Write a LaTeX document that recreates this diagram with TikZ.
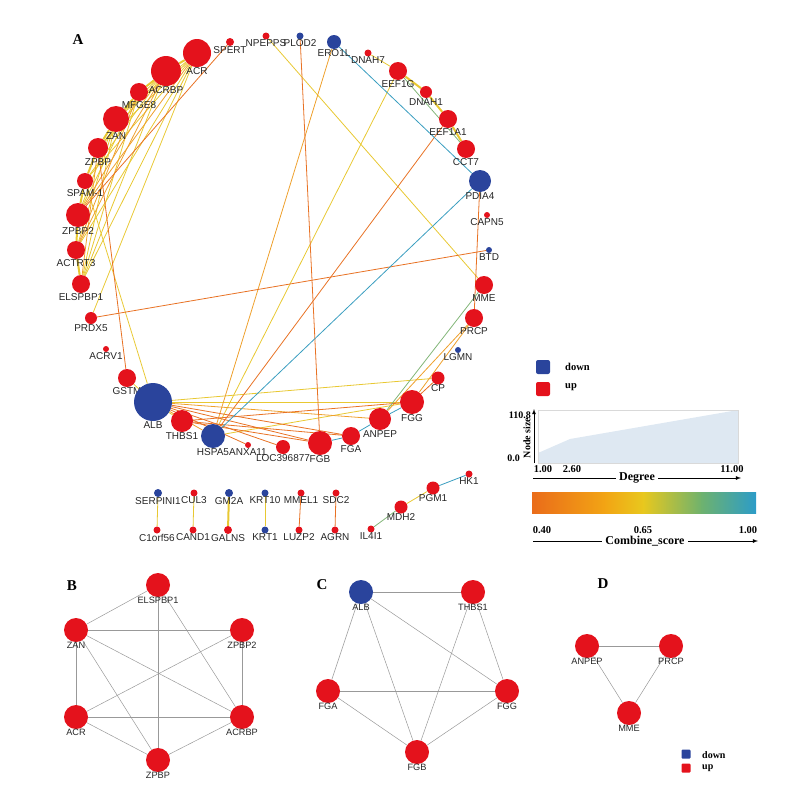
\documentclass[tikz,border=0pt]{standalone}
\usepackage{fontspec}
\setmainfont{Liberation Serif}
\setsansfont{Liberation Sans}
\usetikzlibrary{backgrounds}

\definecolor{upred}{RGB}{228,18,28}
\definecolor{downblue}{RGB}{42,68,156}
\definecolor{eOr}{RGB}{232,114,36}
\definecolor{eAm}{RGB}{238,160,44}
\definecolor{eYe}{RGB}{232,200,50}
\definecolor{eYg}{RGB}{190,196,70}
\definecolor{eGr}{RGB}{130,182,120}
\definecolor{eTe}{RGB}{58,158,192}
\definecolor{chartfill}{RGB}{222,232,242}
\definecolor{cO}{RGB}{234,108,26}
\definecolor{cA}{RGB}{242,165,20}
\definecolor{cY}{RGB}{232,200,30}
\definecolor{cG}{RGB}{110,178,110}
\definecolor{cT}{RGB}{44,156,200}

\tikzset{
  gene/.style={circle, inner sep=0pt, minimum size=#1, label distance=1.5pt},
  upgene/.style={gene=#1, fill=upred},
  dngene/.style={gene=#1, fill=downblue},
  glab/.style={inner sep=0pt, font=\sffamily\fontsize{10}{10}\selectfont, text=black!85},
  slab/.style={inner sep=0pt, font=\sffamily\fontsize{9.2}{9.5}\selectfont, text=black!85},
  link/.style={line width=0.8pt},
  fatlink/.style={line width=2pt},
  greylink/.style={draw=black!40, line width=0.5pt},
  panel/.style={inner sep=0pt, font=\fontsize{15}{15}\selectfont\bfseries},
  keytext/.style={inner sep=0pt, font=\fontsize{10.5}{11}\selectfont\bfseries},
  keybox/.style={inner sep=0pt, rounded corners=2pt, minimum size=#1},
}

\begin{document}
\begin{tikzpicture}[x=1pt,y=-1pt]
\useasboundingbox (0,0) rectangle (795,806);

% A: genes round the circle
\node[panel] (tagA) at (78,40) {A};
\node[upgene=8, label={[glab]below:SPERT}] (spert) at (230,42) {};
\node[upgene=7, label={[glab]below:NPEPPS}] (npepps) at (266,36) {};
\node[dngene=7, label={[glab]below:PLOD2}] (plod2) at (300,36) {};
\node[dngene=14, label={[glab]below:ERO1L}] (ero1l) at (334,42) {};
\node[upgene=7, label={[glab]below:DNAH7}] (dnah7) at (368,53) {};
\node[upgene=18, label={[glab]below:EEF1G}] (eef1g) at (398,71) {};
\node[upgene=12, label={[glab]below:DNAH1}] (dnah1) at (426,92) {};
\node[upgene=18, label={[glab]below:EEF1A1}] (eef1a1) at (448,119) {};
\node[upgene=18, label={[glab]below:CCT7}] (cct7) at (466,149) {};
\node[dngene=22, label={[glab]below:PDIA4}] (pdia4) at (480,181) {};
\node[upgene=6, label={[glab]below:CAPN5}] (capn5) at (487,215) {};
\node[dngene=6, label={[glab]below:BTD}] (btd) at (489,250) {};
\node[upgene=18, label={[glab]below:MME}] (mme) at (484,285) {};
\node[upgene=18, label={[glab]below:PRCP}] (prcp) at (474,318) {};
\node[dngene=6, label={[glab]below:LGMN}] (lgmn) at (458,350) {};
\node[upgene=13, label={[glab]below:CP}] (cp) at (438,378) {};
\node[upgene=24, label={[glab]below:FGG}] (fgg) at (412,402) {};
\node[upgene=22, label={[glab]below:ANPEP}] (anpep) at (380,419) {};
\node[upgene=18, label={[glab]below:FGA}] (fga) at (351,436) {};
\node[upgene=24, label={[glab]below:FGB}] (fgb) at (320,443) {};
\node[upgene=14, label={[glab]below:LOC396877}] (loc) at (283,447) {};
\node[upgene=6, label={[glab]below:ANXA11}] (anxa) at (248,445) {};
\node[dngene=24, label={[glab]below:HSPA5}] (hspa) at (213,436) {};
\node[upgene=22, label={[glab]below:THBS1}] (thbs) at (182,421) {};
\node[upgene=18, label={[glab]below:GSTM}] (gstm) at (127,378) {};
\node[dngene=38, label={[glab]below:ALB}] (alb) at (153,402) {};
\node[upgene=6, label={[glab]below:ACRV1}] (acrv) at (106,349) {};
\node[upgene=12, label={[glab]below:PRDX5}] (prdx) at (91,318) {};
\node[upgene=18, label={[glab]below:ELSPBP1}] (elspbp) at (81,284) {};
\node[upgene=18, label={[glab]below:ACTRT3}] (actrt) at (76,250) {};
\node[upgene=24, label={[glab]below:ZPBP2}] (zpbpb) at (78,215) {};
\node[upgene=16, label={[glab]below:SPAM-1}] (spam) at (85,181) {};
\node[upgene=20, label={[glab]below:ZPBP}] (zpbp) at (98,148) {};
\node[upgene=26, label={[glab]below:ZAN}] (zan) at (116,119) {};
\node[upgene=18, label={[glab]below:MFGE8}] (mfge) at (139,92) {};
\node[upgene=30, label={[glab]below:ACRBP}] (acrbp) at (166,71) {};
\node[upgene=28, label={[glab]below:ACR}] (acr) at (197,53) {};

% A: small pairs and the chain
\node[dngene=8, label={[glab]below:SERPINI1}] (serpini) at (158,493) {};
\node[upgene=7, label={[glab]below:CUL3}] (cul3) at (194,493) {};
\node[dngene=8, label={[glab]below:GM2A}] (gm2a) at (229,493) {};
\node[dngene=7, label={[glab]below:KRT10}] (krt10) at (265,493) {};
\node[upgene=7, label={[glab]below:MMEL1}] (mmel) at (301,493) {};
\node[upgene=7, label={[glab]below:SDC2}] (sdc2) at (336,493) {};
\node[upgene=7, label={[glab]below:C1orf56}] (corf) at (157,530) {};
\node[upgene=7, label={[glab]below:CAND1}] (cand) at (193,530) {};
\node[upgene=8, label={[glab]below:GALNS}] (galns) at (228,530) {};
\node[dngene=7, label={[glab]below:KRT1}] (krt1) at (265,530) {};
\node[upgene=7, label={[glab]below:LUZP2}] (luzp) at (299,530) {};
\node[upgene=7, label={[glab]below:AGRN}] (agrn) at (335,530) {};
\node[upgene=7, label={[glab]below:IL4I1}] (ilfi) at (371,529) {};
\node[upgene=13, label={[glab]below:MDH2}] (mdh) at (401,507) {};
\node[upgene=13, label={[glab]below:PGM1}] (pgm) at (433,488) {};
\node[upgene=7, label={[glab]below:HK1}] (hk) at (469,474) {};

% A: edges behind the genes
\begin{pgfonlayer}{background}
  \foreach \a/\b in {acr/acrbp, acrbp/mfge, mfge/zan, zan/zpbp, zpbp/spam,
      spam/zpbpb, zpbpb/actrt, actrt/elspbp, eef1g/dnah1, dnah1/eef1a1, eef1a1/cct7}
    \draw[fatlink, eYe] (\a) -- (\b);
  \foreach \a/\b in {acr/zan, acr/zpbp, acr/elspbp, acr/spam, acr/actrt, acr/prdx,
      acrbp/zan, acrbp/zpbp, acrbp/elspbp, acrbp/spam, mfge/zpbpb, mfge/elspbp,
      zan/zpbpb, zan/elspbp, zan/actrt, spam/alb, alb/gstm, alb/cp, alb/fgg,
      alb/thbs, eef1g/hspa, npepps/mme, dnah7/eef1g, hspa/fgg,
      serpini/corf, cul3/cand, krt10/krt1, mdh/pgm}
    \draw[link, eYe] (\a) -- (\b);
  \foreach \a/\b in {acr/zpbpb, acrbp/zpbpb, acrbp/actrt, mfge/actrt, zpbp/elspbp,
      ero1l/hspa, alb/anpep, alb/hspa, fgg/prcp, anpep/prcp}
    \draw[link, eAm] (\a) -- (\b);
  \foreach \a/\b in {spert/zpbpb, zpbp/gstm, prdx/btd, plod2/fgb, eef1a1/hspa,
      pdia4/prcp, alb/fga, alb/fgb, alb/loc, alb/anxa, thbs/fgg, thbs/fgb,
      thbs/fga, fgg/cp, mmel/luzp, sdc2/agrn}
    \draw[link, eOr] (\a) -- (\b);
  \foreach \a/\b in {eef1g/cct7, anpep/mme, ilfi/mdh}
    \draw[link, eGr] (\a) -- (\b);
  \foreach \a/\b in {ero1l/pdia4, pdia4/hspa, fgb/fga, fga/anpep, anpep/fgg, pgm/hk}
    \draw[link, eTe] (\a) -- (\b);
  \draw[fatlink, eYe] (gm2a) -- (galns);
\end{pgfonlayer}

% A: legend
\node[keybox=14, fill=downblue] (keydn) at (543,367) {};
\node[keytext, anchor=west] (keydntxt) at (565,367) {down};
\node[keybox=14, fill=upred] (keyup) at (543,389) {};
\node[keytext, anchor=west] (keyuptxt) at (565,387) {up};

\fill[chartfill] (538,463) -- (538,453) -- (570,439) -- (738,410) -- (738,463) -- cycle;
\draw[black!15] (538,410) rectangle (738,463);
\draw[-latex, thick] (534,463) -- (534,409);
\node[keytext, rotate=90, font=\fontsize{10}{10}\selectfont\bfseries] (sizetxt) at (527,438) {Node size};
\node[keytext, anchor=east, font=\fontsize{10}{10}\selectfont\bfseries] (sizetop) at (531,415) {110.8};
\node[keytext, anchor=east, font=\fontsize{10}{10}\selectfont\bfseries] (sizebot) at (520,458) {0.0};
\node[keytext] (deg1) at (543,469) {1.00};
\node[keytext] (deg2) at (572,469) {2.60};
\node[keytext] (deg3) at (732,469) {11.00};
\draw[-latex, thick] (533,478) -- (741,478);
\node[keytext, fill=white, inner xsep=3pt, font=\fontsize{12}{12}\selectfont\bfseries] (degtxt) at (637,478) {Degree};

\shade[left color=cO, right color=cA] (532,492) rectangle (606,513);
\shade[left color=cA, right color=cY] (605,492) rectangle (644,513);
\shade[left color=cY, right color=cG] (643,492) rectangle (702,513);
\shade[left color=cG, right color=cT] (701,492) rectangle (756,513);
\node[keytext] (sc1) at (542,530) {0.40};
\node[keytext] (sc2) at (643,530) {0.65};
\node[keytext] (sc3) at (748,530) {1.00};
\draw[-latex, thick] (533,541) -- (758,541);
\node[keytext, fill=white, inner xsep=3pt, font=\fontsize{12}{12}\selectfont\bfseries] (sctxt) at (645,541) {Combine\_score};

% B
\node[panel] (tagB) at (72,586) {B};
\node[upgene=24, label={[slab]below:ELSPBP1}] (b1) at (158,585) {};
\node[upgene=24, label={[slab]below:ZAN}] (b2) at (76,630) {};
\node[upgene=24, label={[slab]below:ZPBP2}] (b3) at (242,630) {};
\node[upgene=24, label={[slab]below:ACR}] (b4) at (76,717) {};
\node[upgene=24, label={[slab]below:ACRBP}] (b5) at (242,717) {};
\node[upgene=24, label={[slab]below:ZPBP}] (b6) at (158,760) {};
\begin{pgfonlayer}{background}
  \foreach \a/\b in {b1/b2, b1/b6, b1/b5, b2/b3, b2/b4, b2/b5, b2/b6,
      b3/b4, b3/b5, b4/b5, b4/b6, b5/b6}
    \draw[greylink] (\a) -- (\b);
\end{pgfonlayer}

% C
\node[panel] (tagC) at (322,585) {C};
\node[dngene=24, label={[slab]below:ALB}] (c1) at (361,592) {};
\node[upgene=24, label={[slab]below:THBS1}] (c2) at (473,592) {};
\node[upgene=24, label={[slab]below:FGA}] (c3) at (328,691) {};
\node[upgene=24, label={[slab]below:FGG}] (c4) at (507,691) {};
\node[upgene=24, label={[slab]below:FGB}] (c5) at (417,752) {};
\begin{pgfonlayer}{background}
  \foreach \a/\b in {c1/c2, c1/c3, c1/c5, c1/c4, c2/c5, c2/c4, c3/c4, c3/c5, c4/c5}
    \draw[greylink] (\a) -- (\b);
\end{pgfonlayer}

% D
\node[panel] (tagD) at (603,584) {D};
\node[upgene=24, label={[slab]below:ANPEP}] (d1) at (587,646) {};
\node[upgene=24, label={[slab]below:PRCP}] (d2) at (671,646) {};
\node[upgene=24, label={[slab]below:MME}] (d3) at (629,713) {};
\begin{pgfonlayer}{background}
  \foreach \a/\b in {d1/d2, d1/d3, d2/d3}
    \draw[greylink] (\a) -- (\b);
\end{pgfonlayer}

\node[keybox=9, rounded corners=1pt, fill=downblue] (dkeydn) at (686,754) {};
\node[keytext, anchor=west, font=\fontsize{10}{10}\selectfont\bfseries] (dkeydntxt) at (702,755) {down};
\node[keybox=9, rounded corners=1pt, fill=upred] (dkeyup) at (686,768) {};
\node[keytext, anchor=west, font=\fontsize{10}{10}\selectfont\bfseries] (dkeyuptxt) at (702,768) {up};
\end{tikzpicture}
\end{document}
